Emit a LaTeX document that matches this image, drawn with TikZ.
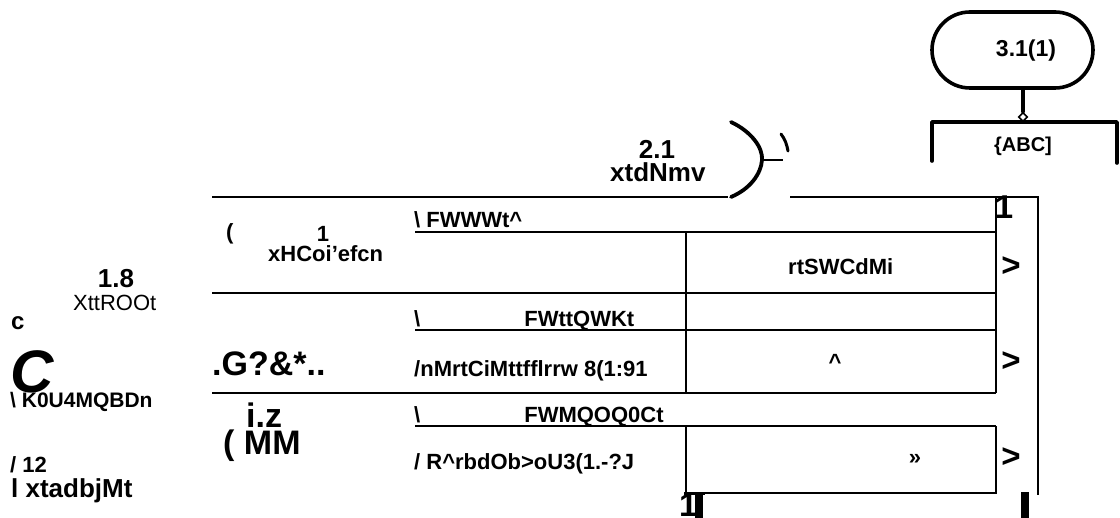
\documentclass[tikz,border=0pt]{standalone}
\usepackage{fontspec}
\setmainfont{Liberation Sans}
\usetikzlibrary{shapes.geometric}
\begin{document}
\begin{tikzpicture}[x=1pt,y=-1pt,
  tl/.style={line width=2.2pt},
  hl/.style={line width=3.6pt,line join=round,line cap=round},
  lb/.style={inner sep=0pt,font=\bfseries\fontsize{22}{26}\selectfont},
  lr/.style={inner sep=0pt,font=\fontsize{22}{26}\selectfont},
  lm/.style={inner sep=0pt,font=\bfseries\fontsize{26}{30}\selectfont},
  lg/.style={inner sep=0pt,font=\bfseries\fontsize{34}{38}\selectfont},
  mk/.style={inner sep=0pt,font=\bfseries\fontsize{33}{36}\selectfont}]
\clip (0,0) rectangle (1120,518);
\fill[white] (0,0) rectangle (1120,518);

% header block: rounded terminal, junction and open box
\node[draw,hl,rounded corners=38pt,minimum width=161pt,minimum height=76pt,inner sep=0pt] (term) at (1012.5,50) {};
\node[lb,font=\bfseries\fontsize{23}{26}\selectfont] (termtxt) at (1026,51) {3.1(1)};
\node[draw,fill=white,diamond,line width=1.6pt,inner sep=0pt,minimum size=9pt] (jn) at (1023,117) {};
\draw[hl] (jn.north) -- (jn.north |- term.south);
\coordinate (boxtop) at (1023,122);
\draw[hl] (932,161) -- (932,122) -- (jn.south |- boxtop) -- (1117,122) -- (1117,163);
\node[lb,font=\bfseries\fontsize{20}{24}\selectfont] (abc) at (1023,146) {\{ABC]};

% bracket on the top rule
\draw[line width=3.8pt,line cap=round] (731,122) .. controls (752,132) and (763,148) .. (762,160)
  .. controls (761,174) and (750,189) .. (731,197);
\draw[line width=2.6pt] (762,160) -- (783,160);
\draw[line width=3pt,line cap=round] (781,134) .. controls (785,139) and (787,145) .. (788,151);

% rules of the table
\draw[tl] (212,197) -- (728,197);
\draw[tl] (790,197) -- (1038,197) -- (1038,495);
\draw[tl] (996,197) -- (996,393);
\draw[tl] (415,232) -- (996,232);
\draw[tl] (212,293) -- (996,293);
\draw[tl] (415,330) -- (996,330);
\draw[tl] (212,393) -- (996,393);
\draw[tl] (415,426) -- (996,426);
\draw[tl] (686,232) -- (686,393);
\draw[tl] (686,426) -- (686,493) -- (996,493) -- (996,426);

% marks at the bottom edge
\node[mk,anchor=north west] (b1) at (679,494) {1};
\fill (695,493) rectangle (703,518);
\fill (684,492) rectangle (705,495);
\fill (1021,492) rectangle (1029,518);

% marks beside the right column
\node[mk] (top1) at (1004,207) {1};
\node[mk] (a1) at (1011,267) {>};
\node[mk] (a2) at (1011,362) {>};
\node[mk] (a3) at (1011,458) {>};

% labels above the table
\node[lm,anchor=base] (l21) at (657,159) {2.1};
\node[lm,anchor=base west] (l21b) at (610,182) {xtdNmv};

% first row
\node[lb,anchor=base west] (p1) at (226,240) {(};
\node[lb,anchor=base] (n1) at (323,242) {1};
\node[lb,anchor=base west] (r1) at (268,262) {xHCoi’efcn};
\node[lb,anchor=base west] (h1) at (414,228) {\textbackslash\ FWWWt\^{}};
\node[lb,anchor=base west] (c1) at (788,275) {rtSWCdMi};

% second row
\node[lg,anchor=base west] (r2) at (212,376) {.G?\&*..};
\node[lb,anchor=base west] (h2) at (414,327) {\textbackslash\hspace{104pt}FWttQWKt};
\node[lb,anchor=base west] (s2) at (414,377) {/nMrtCiMttfflrrw 8(1:91};
\node[lb] (c2) at (835,362) {\^{}};

% third row
\node[lg,anchor=base west] (r3a) at (246,428) {i.z};
\node[lg,anchor=base west] (r3b) at (223,455) {( MM};
\node[lb,anchor=base west] (h3) at (414,423) {\textbackslash\hspace{104pt}FWMQOQ0Ct};
\node[lb,anchor=base west] (s3) at (414,470) {/ R\^{}rbdOb>oU3(1.-?J};
\node[lb] (c3) at (915,459) {»};

% left margin labels
\node[lm,anchor=base] (m18) at (116,288) {1.8};
\node[lr,anchor=base west] (m18b) at (73,311) {XttROOt};
\node[lb,font=\bfseries\fontsize{24}{28}\selectfont,anchor=base west] (mc) at (11,330) {c};
\node[lb,anchor=base west,font=\bfseries\fontsize{21}{25}\selectfont] (mk0) at (10,408) {\textbackslash\ K0U4MQBDn};
\node[inner sep=0pt,font=\bfseries\itshape\fontsize{60}{64}\selectfont,anchor=base west] (bigc) at (10,393) {C};
\node[lb,anchor=base west] (m12) at (10,473) {/ 12};
\node[lb,font=\bfseries\fontsize{26}{30}\selectfont,anchor=base west] (m12b) at (11,498) {l xtadbjMt};
\end{tikzpicture}
\end{document}
